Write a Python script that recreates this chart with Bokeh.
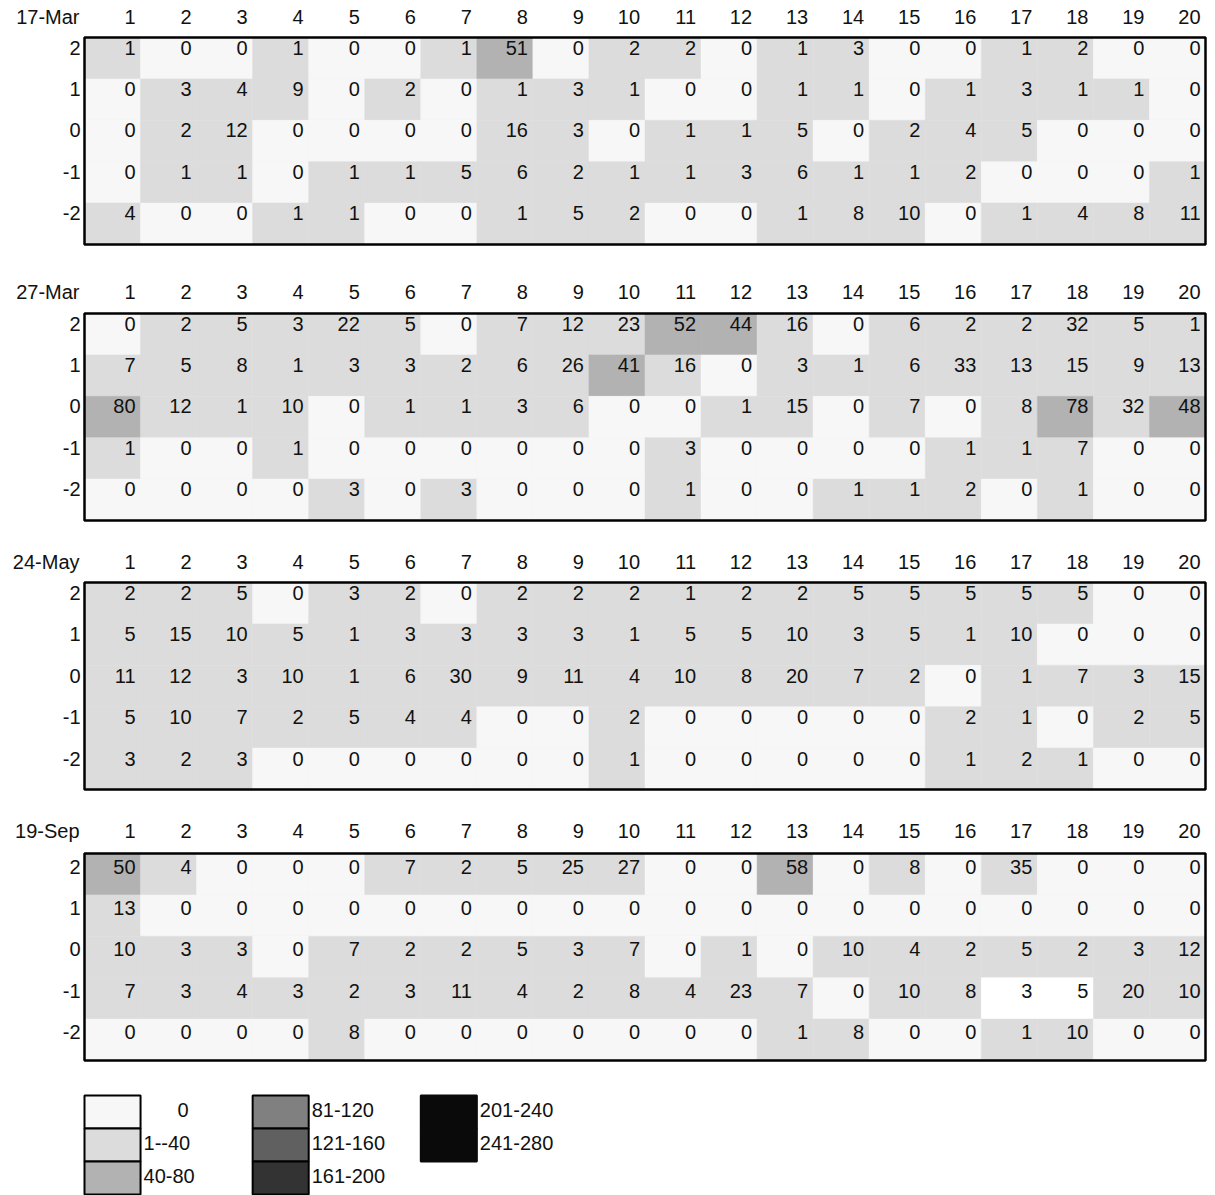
from bokeh.plotting import figure
from bokeh.models import Range1d, ColumnDataSource
from bokeh.core.properties import value
from bokeh.embed import file_html
from bokeh.resources import INLINE

# ---------------- data ----------------
DATES = ["17-Mar", "27-Mar", "24-May", "19-Sep"]
COLS = list(range(1, 21))
ROWS = [2, 1, 0, -1, -2]

MAR17 = [
    [1, 0, 0, 1, 0, 0, 1, 51, 0, 2, 2, 0, 1, 3, 0, 0, 1, 2, 0, 0],
    [0, 3, 4, 9, 0, 2, 0, 1, 3, 1, 0, 0, 1, 1, 0, 1, 3, 1, 1, 0],
    [0, 2, 12, 0, 0, 0, 0, 16, 3, 0, 1, 1, 5, 0, 2, 4, 5, 0, 0, 0],
    [0, 1, 1, 0, 1, 1, 5, 6, 2, 1, 1, 3, 6, 1, 1, 2, 0, 0, 0, 1],
    [4, 0, 0, 1, 1, 0, 0, 1, 5, 2, 0, 0, 1, 8, 10, 0, 1, 4, 8, 11],
]
MAR27 = [
    [0, 2, 5, 3, 22, 5, 0, 7, 12, 23, 52, 44, 16, 0, 6, 2, 2, 32, 5, 1],
    [7, 5, 8, 1, 3, 3, 2, 6, 26, 41, 16, 0, 3, 1, 6, 33, 13, 15, 9, 13],
    [80, 12, 1, 10, 0, 1, 1, 3, 6, 0, 0, 1, 15, 0, 7, 0, 8, 78, 32, 48],
    [1, 0, 0, 1, 0, 0, 0, 0, 0, 0, 3, 0, 0, 0, 0, 1, 1, 7, 0, 0],
    [0, 0, 0, 0, 3, 0, 3, 0, 0, 0, 1, 0, 0, 1, 1, 2, 0, 1, 0, 0],
]
MAY24 = [
    [2, 2, 5, 0, 3, 2, 0, 2, 2, 2, 1, 2, 2, 5, 5, 5, 5, 5, 0, 0],
    [5, 15, 10, 5, 1, 3, 3, 3, 3, 1, 5, 5, 10, 3, 5, 1, 10, 0, 0, 0],
    [11, 12, 3, 10, 1, 6, 30, 9, 11, 4, 10, 8, 20, 7, 2, 0, 1, 7, 3, 15],
    [5, 10, 7, 2, 5, 4, 4, 0, 0, 2, 0, 0, 0, 0, 0, 2, 1, 0, 2, 5],
    [3, 2, 3, 0, 0, 0, 0, 0, 0, 1, 0, 0, 0, 0, 0, 1, 2, 1, 0, 0],
]
SEP19 = [
    [50, 4, 0, 0, 0, 7, 2, 5, 25, 27, 0, 0, 58, 0, 8, 0, 35, 0, 0, 0],
    [13, 0, 0, 0, 0, 0, 0, 0, 0, 0, 0, 0, 0, 0, 0, 0, 0, 0, 0, 0],
    [10, 3, 3, 0, 7, 2, 2, 5, 3, 7, 0, 1, 0, 10, 4, 2, 5, 2, 3, 12],
    [7, 3, 4, 3, 2, 3, 11, 4, 2, 8, 4, 23, 7, 0, 10, 8, 3, 5, 20, 10],
    [0, 0, 0, 0, 8, 0, 0, 0, 0, 0, 0, 0, 1, 8, 0, 0, 1, 10, 0, 0],
]
PANELS = [MAR17, MAR27, MAY24, SEP19]

# cells left unshaded in the original sheet (date, row, column)
UNSHADED = [("19-Sep", -1, 17), ("19-Sep", -1, 18)]

CLASS_LABELS = ["0", "1--40", "40-80", "81-120", "121-160", "161-200", "201-240", "241-280"]
CLASS_UPPER = [0, 40, 80, 120, 160, 200, 240, 280]
CLASS_COLORS = ["#f7f7f7", "#dcdcdc", "#b2b2b2", "#808080", "#606060", "#333333", "#0a0a0a", "#0a0a0a"]
LEGEND_LAYOUT = [(0, 0), (0, 1), (0, 2), (1, 0), (1, 1), (1, 2), (2, 0), (2, 1)]  # (legend column, row)

# ---------------- layout ----------------
W, H = 1210, 1195
CW = 56.05          # cell width in px
X0 = 84             # left edge of the grid, px
RH = 41.4           # row height, px
PANEL_TOP = [37, 313, 582, 853]
HEADER_MID = [16, 291.5, 561.5, 830]
TEXT_DY = [10, 10, 10.5, 13]   # text centre below the top of its cell
LEG_TOP = 1095
LEG_RH = 33
LEG_COLS = [1, 4, 7]
FONT = "Liberation Sans"
FS = "20px"
TXT = "#111111"


def color_of(v):
    for up, c in zip(CLASS_UPPER, CLASS_COLORS):
        if v <= up:
            return c
    return CLASS_COLORS[-1]


p = figure(width=W, height=H, output_backend="svg", toolbar_location=None,
           x_range=Range1d(-X0 / CW, (W - X0) / CW), y_range=Range1d(H, 0),
           min_border=0)
p.axis.visible = False
p.grid.visible = False
p.outline_line_color = None
p.background_fill_color = "white"
p.border_fill_color = "white"

cells = dict(left=[], right=[], top=[], bottom=[], color=[], x=[], ym=[], label=[])
row_lab = dict(x=[], ym=[], label=[])
head = dict(x=[], ym=[], label=[])
frames = dict(left=[], right=[], top=[], bottom=[])

for pi, (date, grid) in enumerate(zip(DATES, PANELS)):
    top0 = PANEL_TOP[pi]
    head["x"].append(0)
    head["ym"].append(HEADER_MID[pi])
    head["label"].append(date)
    for c in COLS:
        head["x"].append(c)
        head["ym"].append(HEADER_MID[pi])
        head["label"].append(str(c))
    for ri, r in enumerate(ROWS):
        t = top0 + ri * RH
        row_lab["x"].append(0)
        row_lab["ym"].append(t + TEXT_DY[pi])
        row_lab["label"].append(str(r))
        for ci, c in enumerate(COLS):
            v = grid[ri][ci]
            col = "#ffffff" if (date, r, c) in UNSHADED else color_of(v)
            cells["left"].append(c - 1)
            cells["right"].append(c)
            cells["top"].append(t)
            cells["bottom"].append(t + RH)
            cells["color"].append(col)
            cells["x"].append(c)
            cells["ym"].append(t + TEXT_DY[pi])
            cells["label"].append(str(v))
    frames["left"].append(0)
    frames["right"].append(len(COLS))
    frames["top"].append(top0)
    frames["bottom"].append(top0 + RH * len(ROWS))

cs = ColumnDataSource(cells)
p.quad(left="left", right="right", top="top", bottom="bottom", fill_color="color",
       line_color="color", line_width=0.5, source=cs)
p.quad(left="left", right="right", top="top", bottom="bottom", fill_color=None,
       line_color="black", line_width=2.5, source=ColumnDataSource(frames))

txt_kw = dict(text_align="right", text_baseline="middle", text_font=value(FONT),
              text_font_size=FS, text_color=TXT)
p.text(x="x", y="ym", text="label", x_offset=-5, source=cs, **txt_kw)
p.text(x="x", y="ym", text="label", x_offset=-4, source=ColumnDataSource(row_lab), **txt_kw)
p.text(x="x", y="ym", text="label", x_offset=-5, source=ColumnDataSource(head), **txt_kw)

# ---------------- legend ----------------
leg = dict(left=[], right=[], top=[], bottom=[], color=[], lc=[])
leg_txt_r = dict(x=[], ym=[], label=[])
leg_txt_l = dict(x=[], ym=[], label=[])
for lab, col, (lc, lr) in zip(CLASS_LABELS, CLASS_COLORS, LEGEND_LAYOUT):
    c = LEG_COLS[lc]
    t = LEG_TOP + lr * LEG_RH
    leg["left"].append(c - 1)
    leg["right"].append(c)
    leg["top"].append(t)
    leg["bottom"].append(t + LEG_RH)
    leg["color"].append(col)
    leg["lc"].append("black" if lc < 2 else col)
    ym = t + LEG_RH / 2 - 2
    if lab.isdigit():
        leg_txt_r["x"].append(c + 1)
        leg_txt_r["ym"].append(ym)
        leg_txt_r["label"].append(lab)
    else:
        leg_txt_l["x"].append(c)
        leg_txt_l["ym"].append(ym)
        leg_txt_l["label"].append(lab)

p.quad(left="left", right="right", top="top", bottom="bottom", fill_color="color",
       line_color="lc", line_width=2, source=ColumnDataSource(leg))
p.text(x="x", y="ym", text="label", x_offset=-8, source=ColumnDataSource(leg_txt_r), **txt_kw)
txt_kw_l = dict(txt_kw, text_align="left")
p.text(x="x", y="ym", text="label", x_offset=3, source=ColumnDataSource(leg_txt_l), **txt_kw_l)

open("out.html", "w").write(file_html(p, INLINE))
